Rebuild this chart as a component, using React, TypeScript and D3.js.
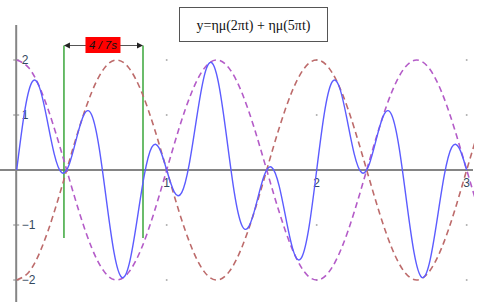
import React from "react";
import * as d3 from "d3";

// Blue curve samples y = sin(2πt) + sin(5πt), t = 0, 0.05, ..., 3
const blueT0 = 0;
const blueStep = 0.05;
const blueValues = [
  0, 1.016, 1.588, 1.516, 0.951, 0.293, -0.049, 0.102, 0.588, 1.016,
  1, 0.398, -0.588, -1.516, -1.951, -1.707, -0.951, -0.102, 0.412, 0.398,
  0, -0.398, -0.412, 0.102, 0.951, 1.707, 1.951, 1.516, 0.588, -0.398,
  -1, -1.016, -0.588, -0.102, 0.049, -0.293, -0.951, -1.516, -1.588, -1.016,
  0, 1.016, 1.588, 1.516, 0.951, 0.293, -0.049, 0.102, 0.588, 1.016,
  1, 0.398, -0.588, -1.516, -1.951, -1.707, -0.951, -0.102, 0.412, 0.398,
  0,
];

// Envelope samples (purple = +, brown = −), t = 0, 1/12, ..., 37/12
const envStep = 1 / 12;
const envValues = [
  2, 1.848, 1.414, 0.765, 0, -0.765, -1.414, -1.848, -2, -1.848, -1.414, -0.765,
  0, 0.765, 1.414, 1.848, 2, 1.848, 1.414, 0.765, 0, -0.765, -1.414, -1.848,
  -2, -1.848, -1.414, -0.765, 0, 0.765, 1.414, 1.848, 2, 1.848, 1.414, 0.765,
  0, -0.765,
];

const yTicks = [2, 1, -1, -2];
const yTickLabels = ["2", "1", "\u22121", "\u22122"];
const xTicks = [1, 2, 3];
const xTickLabels = ["1", "2", "3"];
const gridT = [1, 2, 3];
const gridY = [2, 1, -1, -2];
const markerT = [0.315, 0.842];
const markerLabel = "4 / 7s";
const title = "y=\u03b7\u03bc(2\u03c0t) + \u03b7\u03bc(5\u03c0t)";

export default function App() {
  const W = 500;
  const H = 302;
  const x = d3.scaleLinear().domain([0, 3]).range([16.7, 466.7]);
  const y = d3.scaleLinear().domain([-2, 2]).range([280, 60]);

  const bluePts: [number, number][] = blueValues.map((v, i) => [blueT0 + i * blueStep, v]);
  const purplePts: [number, number][] = envValues.map((v, i) => [i * envStep, v]);
  const brownPts: [number, number][] = envValues.map((v, i) => [i * envStep, -v]);

  const line = d3
    .line<[number, number]>()
    .x((d) => x(d[0]))
    .y((d) => y(d[1]))
    .curve(d3.curveNatural);

  const axisColor = "#858585";
  const labelColor = "#34495e";
  const gx0 = x(markerT[0]);
  const gx1 = x(markerT[1]);
  const arrowY = 45.5;
  const ah = 6;

  return (
    <svg
      width={W}
      height={H}
      style={{ position: "absolute", left: 0, top: 0, background: "#fff" }}
      fontFamily="'Liberation Sans', Arial, sans-serif"
    >
      <defs>
        <clipPath id="plotclip">
          <rect x={0} y={0} width={474} height={H} />
        </clipPath>
      </defs>

      {/* grid dots */}
      {gridT.map((t) =>
        gridY.map((v) => (
          <circle key={`g${t}_${v}`} cx={x(t)} cy={y(v)} r={1} fill="#b0b0b0" />
        ))
      )}

      {/* axes */}
      <line x1={0} x2={473} y1={y(0)} y2={y(0)} stroke={axisColor} strokeWidth={2} />
      <line x1={x(0) - 0.5} x2={x(0) - 0.5} y1={25} y2={H} stroke={axisColor} strokeWidth={2} />
      {yTicks.map((v) => (
        <line key={`yt${v}`} x1={x(0) - 3.5} x2={x(0) + 2.5} y1={y(v)} y2={y(v)} stroke={axisColor} strokeWidth={1} />
      ))}
      {yTicks.map((v, i) => (
        <text key={`yl${v}`} x={x(0) + 5} y={y(v)} dy="0.35em" fontSize={12} fill={labelColor}>
          {yTickLabels[i]}
        </text>
      ))}
      {xTicks.map((t, i) => (
        <text key={`xl${t}`} x={x(t)} y={y(0) + 13} dy="0.35em" fontSize={12} fill={labelColor} textAnchor="middle">
          {xTickLabels[i]}
        </text>
      ))}

      {/* green markers */}
      {markerT.map((t) => (
        <line key={`gm${t}`} x1={x(t)} x2={x(t)} y1={arrowY} y2={238} stroke="#3aa63a" strokeWidth={1.5} />
      ))}

      <g clipPath="url(#plotclip)">
        <path d={line(brownPts) || ""} fill="none" stroke="#bd6b6b" strokeWidth={1.6} strokeDasharray="6,4" />
        <path d={line(purplePts) || ""} fill="none" stroke="#b45cc8" strokeWidth={1.6} strokeDasharray="6,4" />
        <path d={line(bluePts) || ""} fill="none" stroke="#5c5cff" strokeWidth={1.4} />
      </g>

      {/* arrow + label */}
      <line x1={gx0 + 2} x2={gx1 - 2} y1={arrowY} y2={arrowY} stroke="#555" strokeWidth={1.2} />
      <path d={`M${gx0},${arrowY} L${gx0 + ah},${arrowY - 3} L${gx0 + ah},${arrowY + 3} Z`} fill="#222" />
      <path d={`M${gx1},${arrowY} L${gx1 - ah},${arrowY - 3} L${gx1 - ah},${arrowY + 3} Z`} fill="#222" />
      <rect x={(gx0 + gx1) / 2 - 18} y={37} width={35} height={16} fill="#ff0000" />
      <text x={(gx0 + gx1) / 2 - 0.5} y={45} dy="0.35em" fontSize={11.5} fontStyle="italic" textAnchor="middle" fill="#111">
        {markerLabel}
      </text>

      {/* title box */}
      <rect x={179.5} y={7.5} width={148} height={34} fill="#fff" stroke="#555" strokeWidth={1} />
      <text
        x={253.5}
        y={25}
        dy="0.35em"
        fontSize={14}
        textAnchor="middle"
        fill="#111"
        fontFamily="'Liberation Serif', 'Times New Roman', serif"
      >
        {title}
      </text>
    </svg>
  );
}
